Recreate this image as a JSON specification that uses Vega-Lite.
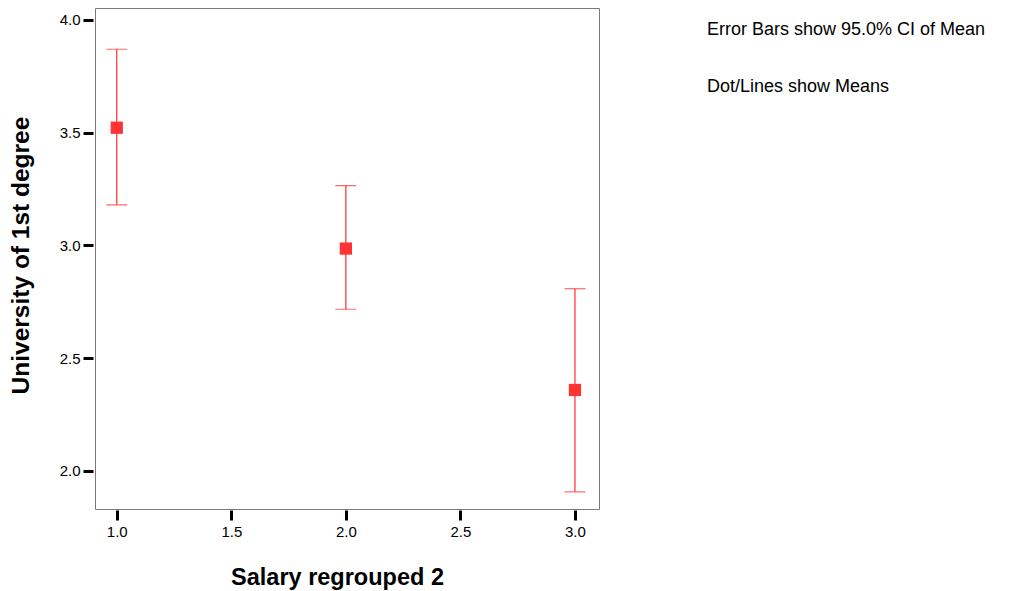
{
  "$schema": "https://vega.github.io/schema/vega-lite/v6.json",
  "autosize": "none",
  "width": 504,
  "height": 501,
  "padding": {"left": 95, "top": 8, "right": 425, "bottom": 82},
  "background": "white",
  "config": {
    "font": "Liberation Sans",
    "view": {"stroke": "#7a7a7a", "strokeWidth": 1}
  },
  "datasets": {
    "stats": [
      {"salary": 1, "mean": 3.522, "lower": 3.180, "upper": 3.870},
      {"salary": 2, "mean": 2.986, "lower": 2.717, "upper": 3.265},
      {"salary": 3, "mean": 2.359, "lower": 1.907, "upper": 2.808}
    ],
    "notes": [
      {"note": "Error Bars show 95.0% CI of Mean"},
      {"note": "Dot/Lines show Means"}
    ]
  },
  "layer": [
    {
      "data": {"name": "stats"},
      "mark": {"type": "rule", "color": "#ff2a2a", "strokeWidth": 1.2},
      "encoding": {
        "x": {
          "field": "salary", "type": "quantitative",
          "scale": {"domain": [0.905, 3.105], "nice": false, "zero": false},
          "axis": {
            "title": "Salary regrouped 2",
            "values": [1, 1.5, 2, 2.5, 3], "format": ".1f",
            "domain": false, "grid": false,
            "offset": 1, "tickSize": 10, "tickWidth": 3, "tickColor": "black",
            "labelFontSize": 15, "labelColor": "black", "labelPadding": 4,
            "titleFontSize": 23.5, "titleFontWeight": "bold", "titleColor": "black",
            "titleX": 242, "titleY": 74, "titleBaseline": "alphabetic"
          }
        },
        "y": {
          "field": "lower", "type": "quantitative",
          "scale": {"domain": [1.831, 4.053], "nice": false, "zero": false},
          "axis": {
            "title": "University of 1st degree",
            "values": [2, 2.5, 3, 3.5, 4], "format": ".1f",
            "domain": false, "grid": false,
            "offset": 2, "tickSize": 10, "tickWidth": 3, "tickColor": "black",
            "labelFontSize": 15, "labelColor": "black", "labelPadding": 3,
            "titleFontSize": 24.5, "titleFontWeight": "bold", "titleColor": "black",
            "titleX": -72, "titleY": 247, "titleBaseline": "middle"
          }
        },
        "y2": {"field": "upper"}
      }
    },
    {
      "data": {"name": "stats"},
      "mark": {"type": "tick", "orient": "horizontal", "color": "#ff2a2a", "size": 21, "thickness": 1.2},
      "encoding": {
        "x": {"field": "salary", "type": "quantitative"},
        "y": {"field": "upper", "type": "quantitative"}
      }
    },
    {
      "data": {"name": "stats"},
      "mark": {"type": "tick", "orient": "horizontal", "color": "#ff2a2a", "size": 21, "thickness": 1.2},
      "encoding": {
        "x": {"field": "salary", "type": "quantitative"},
        "y": {"field": "lower", "type": "quantitative"}
      }
    },
    {
      "data": {"name": "stats"},
      "mark": {"type": "square", "color": "#ff3333", "opacity": 1, "filled": true, "size": 150},
      "encoding": {
        "x": {"field": "salary", "type": "quantitative"},
        "y": {"field": "mean", "type": "quantitative"}
      }
    },
    {
      "data": {"name": "notes"},
      "mark": {"type": "point", "opacity": 0},
      "encoding": {
        "color": {
          "field": "note", "type": "nominal",
          "sort": ["Error Bars show 95.0% CI of Mean", "Dot/Lines show Means"],
          "scale": {"range": ["white", "white"]},
          "legend": {
            "title": null, "orient": "none", "legendX": 594, "legendY": 13,
            "symbolSize": 0, "symbolOpacity": 0, "symbolStrokeWidth": 0,
            "labelOffset": 0, "labelFontSize": 18, "labelColor": "black",
            "labelLimit": 400, "rowPadding": 39
          }
        }
      }
    }
  ]
}
